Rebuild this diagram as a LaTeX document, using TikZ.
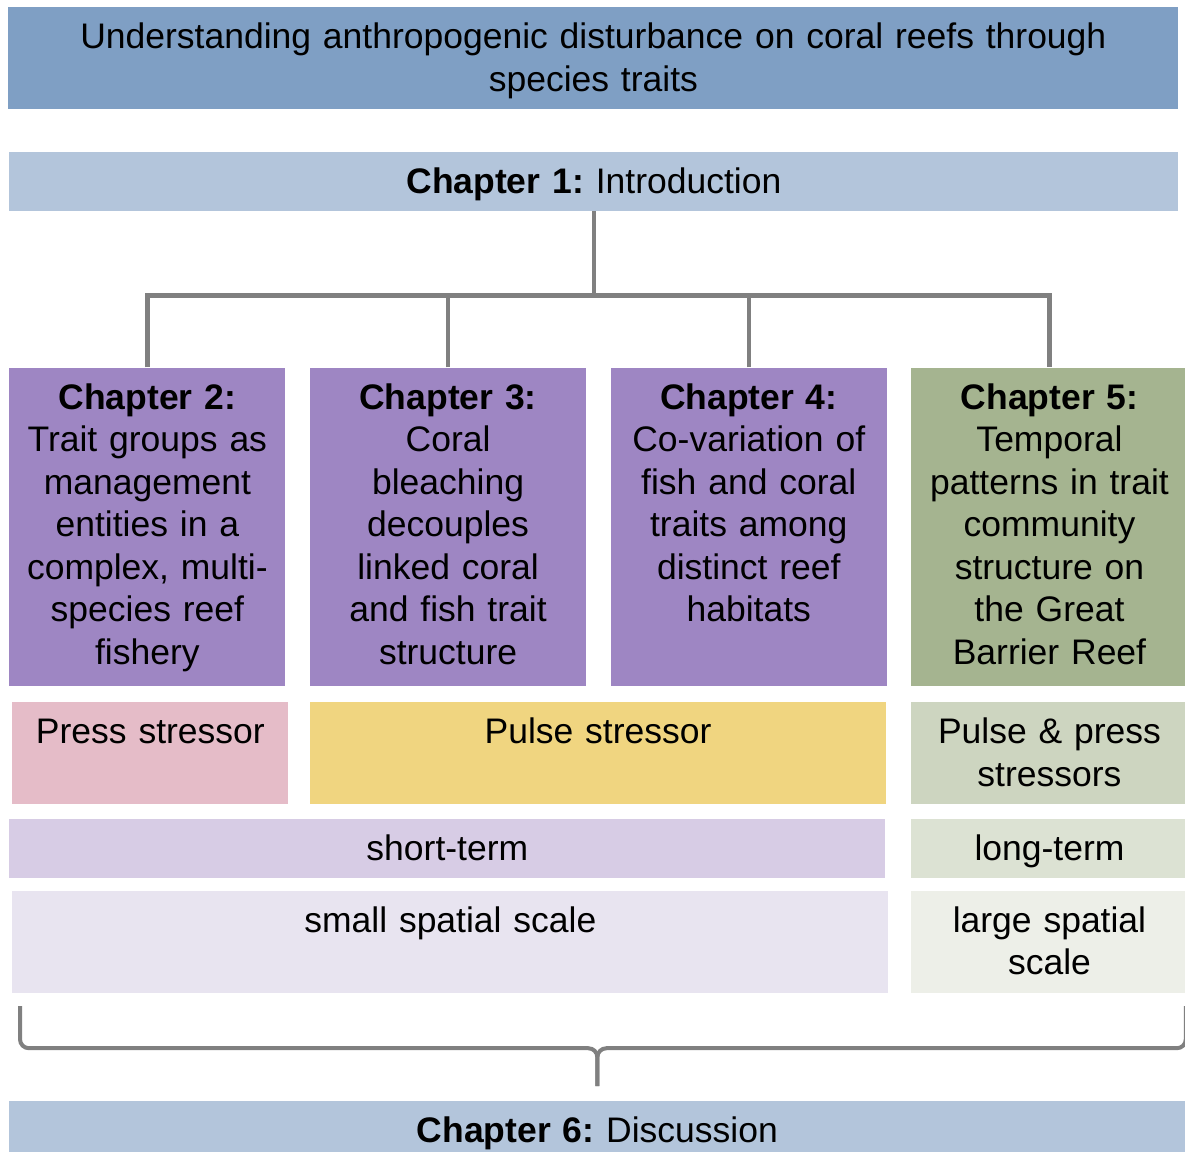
\documentclass[tikz,border=0pt]{standalone}
\usepackage{fontspec}
\setmainfont{Liberation Sans}
\frenchspacing
\usetikzlibrary{positioning, calc}
\definecolor{titleblue}{HTML}{7F9FC4}
\definecolor{chapblue}{HTML}{B3C5DB}
\definecolor{chpurple}{HTML}{9E86C3}
\definecolor{chgreen}{HTML}{A5B490}
\definecolor{presspink}{HTML}{E5BCC8}
\definecolor{pulseyellow}{HTML}{F0D580}
\definecolor{bothgreen}{HTML}{CDD5C0}
\definecolor{shortlilac}{HTML}{D7CCE5}
\definecolor{longgreen}{HTML}{DCE2D3}
\definecolor{smalllilac}{HTML}{E8E4F0}
\definecolor{largegreen}{HTML}{EDEFE8}
\definecolor{linegray}{HTML}{808080}

\begin{document}
\begin{tikzpicture}[
    node distance=0.48cm,
    every node/.style={font=\fontsize{20.2}{24.2}\selectfont},
    cell/.style n args={3}{inner sep=0pt, align=center,
                  minimum width=#1, text width=#1, minimum height=#2,
                  text height=0.83cm, text depth=#3},
    chapbox/.style={cell={5.52cm}{6.36cm}{5.53cm}, fill=chpurple},
    tallrow/.style={cell={#1}{2.04cm}{1.21cm}},
    thinrow/.style={cell={#1}{1.18cm}{0.35cm}},
    tree/.style={draw=linegray, line width=0.09cm},
    bracket/.style={draw=linegray, line width=0.08cm, rounded corners=0.18cm},
]
\useasboundingbox (0,0) rectangle (23.7,-23.02);

% === Title ===
\node[tallrow=23.4cm, fill=titleblue, anchor=north west] (title) at (0.16,-0.14)
  {Understanding anthropogenic disturbance on coral reefs through\\species traits};

% === Chapter 1 ===
\node[thinrow=23.38cm, fill=chapblue,
      below right=0.84cm and 0.02cm of title.south west] (ch1)
  {\textbf{Chapter 1:} Introduction};

% === Chapters 2-5 ===
\node[chapbox, below right=3.12cm and 0cm of ch1.south west] (ch2)
  {\textbf{Chapter 2:}\\Trait groups as\\management\\entities in a\\complex, multi-\\species reef\\fishery};
\node[chapbox, right=of ch2] (ch3)
  {\textbf{Chapter 3:}\\Coral\\bleaching\\decouples\\linked coral\\and fish trait\\structure};
\node[chapbox, right=of ch3] (ch4)
  {\textbf{Chapter 4:}\\Co-variation of\\fish and coral\\traits among\\distinct reef\\habitats};
\node[chapbox, right=of ch4, fill=chgreen] (ch5)
  {\textbf{Chapter 5:}\\Temporal\\patterns in trait\\community\\structure on\\the Great\\Barrier Reef};

% === Stressors ===
\node[tallrow=5.52cm, fill=presspink, below right=0.32cm and 0.06cm of ch2.south west] (press) {Press stressor};
\node[tallrow=11.52cm, fill=pulseyellow,
      below right=0.32cm and 0cm of ch3.south west] (pulse) {Pulse stressor};
\node[tallrow=5.52cm, fill=bothgreen, below=0.32cm of ch5] (both)
  {Pulse \& press\\stressors};

% === Time scale ===
\node[thinrow=17.52cm, fill=shortlilac,
      below right=0.28cm and 0cm of ch2.south west |- press.south] (short) {short-term};
\node[thinrow=5.52cm, fill=longgreen, below=0.28cm of both] (long) {long-term};

% === Spatial scale ===
\node[tallrow=17.52cm, fill=smalllilac,
      below right=0.24cm and 0.06cm of short.south west] (small) {small spatial scale};
\node[tallrow=5.52cm, fill=largegreen, below=0.24cm of long] (large)
  {large spatial\\scale};

% === Chapter 6 ===
\node[cell={23.52cm}{1.08cm}{0.25cm}, fill=chapblue,
      below right=2.14cm and -0.06cm of small.south west] (ch6)
  {\textbf{Chapter 6:} Discussion};

% === Tree ===
\coordinate (bar) at ($(ch1.south)+(0,-1.68)$);
\draw[tree] (ch1.south) -- (bar);
\draw[tree] (ch2.north) |- (bar) -| (ch5.north);
\foreach \c in {ch3, ch4}
  \draw[tree] (\c.north) -- (\c.north |- bar);

% === Brace ===
\coordinate (braceL) at ($(small.south west)+(0.16,-0.26)$);
\coordinate (braceR) at ($(large.south east)+(-0.04,-0.26)$);
\coordinate (tip) at ($(ch6.north)+(0,0.28)$);
\coordinate (mid) at ($(tip)+(0,0.76)$);
\draw[bracket] (braceL) |- (mid) -- (tip);
\draw[bracket] (braceR) |- (mid) -- (tip);

\end{tikzpicture}
\end{document}
